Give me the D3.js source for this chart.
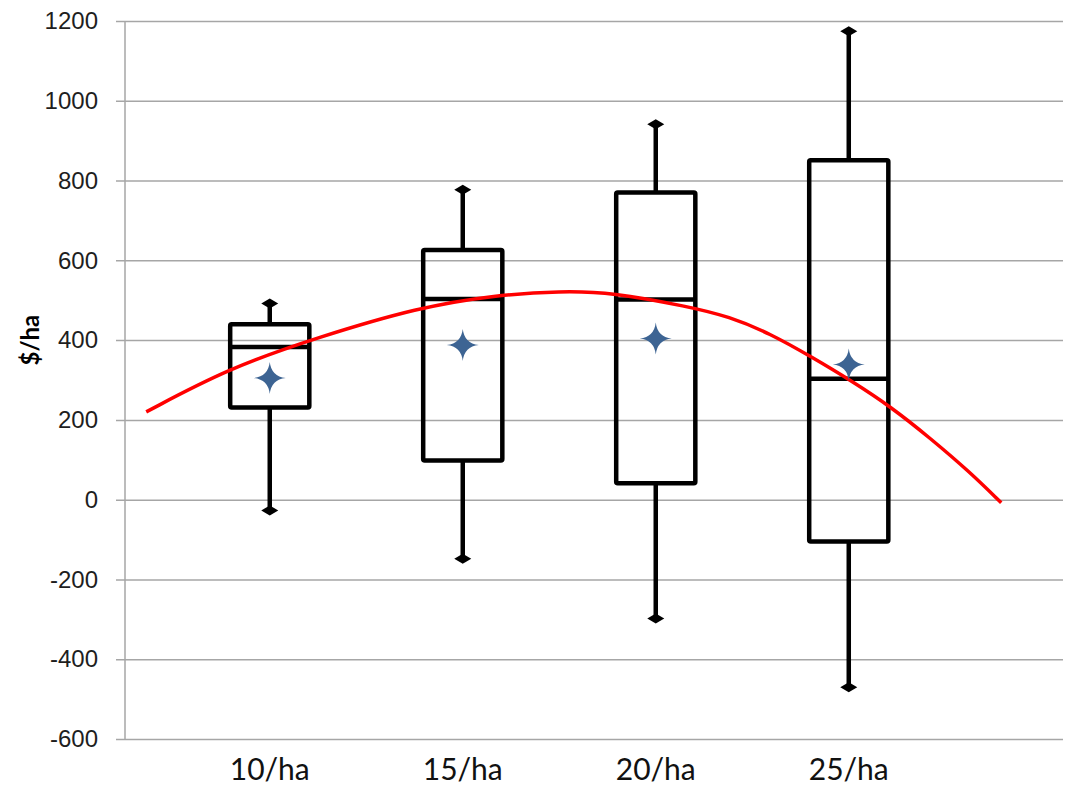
<!DOCTYPE html>
<html>
<head>
<meta charset="utf-8">
<script src="https://cdn.jsdelivr.net/npm/d3@7"></script>
<style>
  body { margin: 0; background: #fff; }
  svg { display: block; font-family: Lato, "Open Sans", sans-serif; }
</style>
</head>
<body>
<script>
// categories and box stats
var categories = ["10/ha", "15/ha", "20/ha", "25/ha"];
var lowWhisker = [-27, -148, -298, -470];
var q1 = [231, 98, 41, -105];
var medians = [383, 503, 502, 303];
var q3 = [440, 626, 770, 851];
var highWhisker = [492, 777, 941, 1174];
var means = [305, 388, 404, 339];

// red trend curve, sampled along the line (x in category units)
var trendX = [0.36, 0.79, 1.25, 1.77, 2.17, 2.51, 2.77, 3.17, 3.38, 3.59, 3.81, 4.02, 4.22, 4.42, 4.63, 4.79];
var trendY = [220, 330, 407, 482, 513, 523, 520, 484, 459, 417, 357, 296, 232, 155, 68, -8];

var yTicks = [-600, -400, -200, 0, 200, 400, 600, 800, 1000, 1200];

var width = 1071, height = 785;
var plot = {left: 125, right: 1063, top: 21, bottom: 739};

var svg = d3.select("body").append("svg")
    .attr("width", width)
    .attr("height", height);

svg.append("rect").attr("width", width).attr("height", height).attr("fill", "#fff");

var x = d3.scaleLinear().domain([0.25, 5.11]).range([plot.left, plot.right]);
var y = d3.scaleLinear().domain([-600, 1200]).range([plot.bottom, plot.top]);

// gridlines + tick labels
var yAxis = d3.axisLeft(y)
    .tickValues(yTicks)
    .tickSizeInner(-(plot.right - plot.left + 9))
    .tickSizeOuter(0)
    .tickPadding(18)
    .tickFormat(function(d){ return String(d); });

var gy = svg.append("g")
    .attr("transform", "translate(" + (plot.left - 9) + ",0)")
    .call(yAxis);
gy.select(".domain").remove();
gy.selectAll(".tick line").attr("stroke", "#a6a6a6").attr("stroke-width", 1.5);
gy.selectAll(".tick text")
    .attr("fill", "#1e1e1e")
    .style("font-size", "24px");

// vertical axis line
svg.append("line")
    .attr("x1", plot.left).attr("x2", plot.left)
    .attr("y1", y(1200)).attr("y2", y(-600))
    .attr("stroke", "#a6a6a6").attr("stroke-width", 1.5);

// category labels
svg.selectAll(".xlab").data(categories).enter().append("text")
    .attr("class", "xlab")
    .attr("x", function(d, i){ return x(i + 1); })
    .attr("y", 780)
    .attr("text-anchor", "middle")
    .attr("fill", "#111")
    .style("font-size", "30px")
    .text(function(d){ return d; });

// y title
svg.append("text")
    .attr("transform", "translate(33," + y(400) + ") rotate(-90)")
    .attr("text-anchor", "middle")
    .attr("dominant-baseline", "middle")
    .attr("font-weight", "bold")
    .style("font-size", "24px")
    .attr("fill", "#000")
    .text("$/ha");

// boxes
var boxW = 0.41 * (x(2) - x(1));
var boxes = svg.append("g");
categories.forEach(function(c, i){
  var cx = x(i + 1);
  var g = boxes.append("g");
  // whiskers
  g.append("line")
      .attr("x1", cx).attr("x2", cx)
      .attr("y1", y(q3[i])).attr("y2", y(highWhisker[i]))
      .attr("stroke", "#000").attr("stroke-width", 4.5);
  g.append("line")
      .attr("x1", cx).attr("x2", cx)
      .attr("y1", y(q1[i])).attr("y2", y(lowWhisker[i]))
      .attr("stroke", "#000").attr("stroke-width", 4.5);
  [highWhisker[i], lowWhisker[i]].forEach(function(v){
    var yy = y(v);
    g.append("path")
        .attr("d", "M" + (cx - 8.5) + "," + yy + "L" + cx + "," + (yy - 5) +
                   "L" + (cx + 8.5) + "," + yy + "L" + cx + "," + (yy + 5) + "Z")
        .attr("fill", "#000");
  });
  // box
  g.append("rect")
      .attr("x", cx - boxW / 2)
      .attr("y", y(q3[i]))
      .attr("width", boxW)
      .attr("height", y(q1[i]) - y(q3[i]))
      .attr("rx", 1.5)
      .attr("fill", "none")
      .attr("stroke", "#000")
      .attr("stroke-width", 4.5);
  // median
  g.append("line")
      .attr("x1", cx - boxW / 2).attr("x2", cx + boxW / 2)
      .attr("y1", y(medians[i])).attr("y2", y(medians[i]))
      .attr("stroke", "#000").attr("stroke-width", 4.5);
});

// trend curve
var trend = trendX.map(function(d, i){ return [d, trendY[i]]; });
var line = d3.line()
    .x(function(d){ return x(d[0]); })
    .y(function(d){ return y(d[1]); })
    .curve(d3.curveBasis);
svg.append("path")
    .attr("d", line(trend))
    .attr("fill", "none")
    .attr("stroke", "#ff0000")
    .attr("stroke-width", 3.5);

// mean markers (4-point star)
var star = "M0,-16Q1.6,-1.6 16,0Q1.6,1.6 0,16Q-1.6,1.6 -16,0Q-1.6,-1.6 0,-16Z";
svg.selectAll(".mean").data(means).enter().append("path")
    .attr("class", "mean")
    .attr("transform", function(d, i){ return "translate(" + x(i + 1) + "," + y(d) + ")"; })
    .attr("d", star)
    .attr("fill", "#3d6493");
</script>
</body>
</html>
